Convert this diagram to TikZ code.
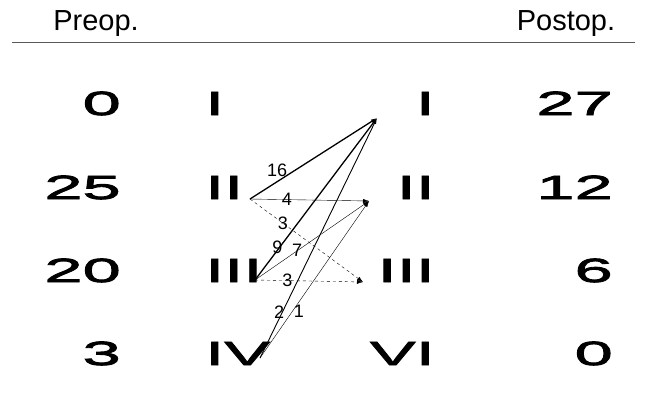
\documentclass[tikz,border=0pt]{standalone}
\usepackage{fontspec}
\setmainfont{Liberation Sans}
\newfontfamily\widefont[FakeStretch=2.05, FakeBold=2.6]{Liberation Sans}
\usetikzlibrary{arrows.meta}

\begin{document}
\begin{tikzpicture}[x=1pt, y=-1pt, >={Latex[length=6pt,width=4pt]},
		big/.style={font=\widefont\fontsize{33.5}{33.5}\selectfont, inner sep=0pt},
		head/.style={font=\fontsize{29}{29}\selectfont, inner sep=0pt},
		cnt/.style={font=\fontsize{18}{18}\selectfont, inner sep=0pt},
		flow/.style={->, thin},
		mainflow/.style={->, line width=1.3pt},
		back/.style={->, thin, dashed}]
		
		\useasboundingbox (0,0) rectangle (645,397);
		
		% header
		\node[head, anchor=base] (preop) at (96,30) {Preop.};
		\node[head, anchor=base] (postop) at (566,30) {Postop.};
		\draw[gray!70!black, thin] (12,42) -- (635,42);
		
		% preoperative classes
		\node[big, anchor=base east] (n1) at (121,115) {0};
		\node[big, anchor=base east] (n2) at (121,199) {25};
		\node[big, anchor=base east] (n3) at (121,282) {20};
		\node[big, anchor=base east] (n4) at (121,365) {3};
		\node[big, anchor=base west] (pre1) at (205,115) {I};
		\node[big, anchor=base west] (pre2) at (205,199) {II};
		\node[big, anchor=base west] (pre3) at (205,282) {III};
		\node[big, anchor=base west] (pre4) at (205,365) {IV};
		
		% postoperative classes
		\node[big, anchor=base east] (post1) at (435,115) {I};
		\node[big, anchor=base east] (post2) at (435,199) {II};
		\node[big, anchor=base east] (post3) at (435,282) {III};
		\node[big, anchor=base east] (post4) at (435,365) {VI};
		\node[big, anchor=base east] (m1) at (613,115) {27};
		\node[big, anchor=base east] (m2) at (613,199) {12};
		\node[big, anchor=base east] (m3) at (613,282) {6};
		\node[big, anchor=base east] (m4) at (613,365) {0};
		
		\coordinate (s2) at (250,199);
		\coordinate (s3) at (255,280);
		\coordinate (s4) at (260,358);
		\coordinate (t1) at (377,118);
		\coordinate (t2) at (369,201);
		\coordinate (t3) at (363,282);
		
		% transitions
		\draw[mainflow] (s2) -- node[cnt, pos=.23, above=3pt, xshift=-2pt] {16} (t1);
		\draw[flow] (s2) -- node[cnt, pos=.31] {4} (t2);
		\draw[back] (s2) -- node[cnt, pos=.29] {3} (t3);
		\draw[mainflow] (s3) -- node[cnt, pos=.2, xshift=-2pt] {9} (t1);
		\draw[flow] (s3) -- node[cnt, pos=.37] {7} (t2);
		\draw[back] (s3) -- node[cnt, pos=.3] {3} (t3);
		\draw[->, line width=.9pt] (s4) -- node[cnt, pos=.19, xshift=-3pt] {2} (t1);
		\draw[flow] (s4) -- node[cnt, pos=.3, right=1pt] {1} (t2);
		
	\end{tikzpicture}
\end{document}
